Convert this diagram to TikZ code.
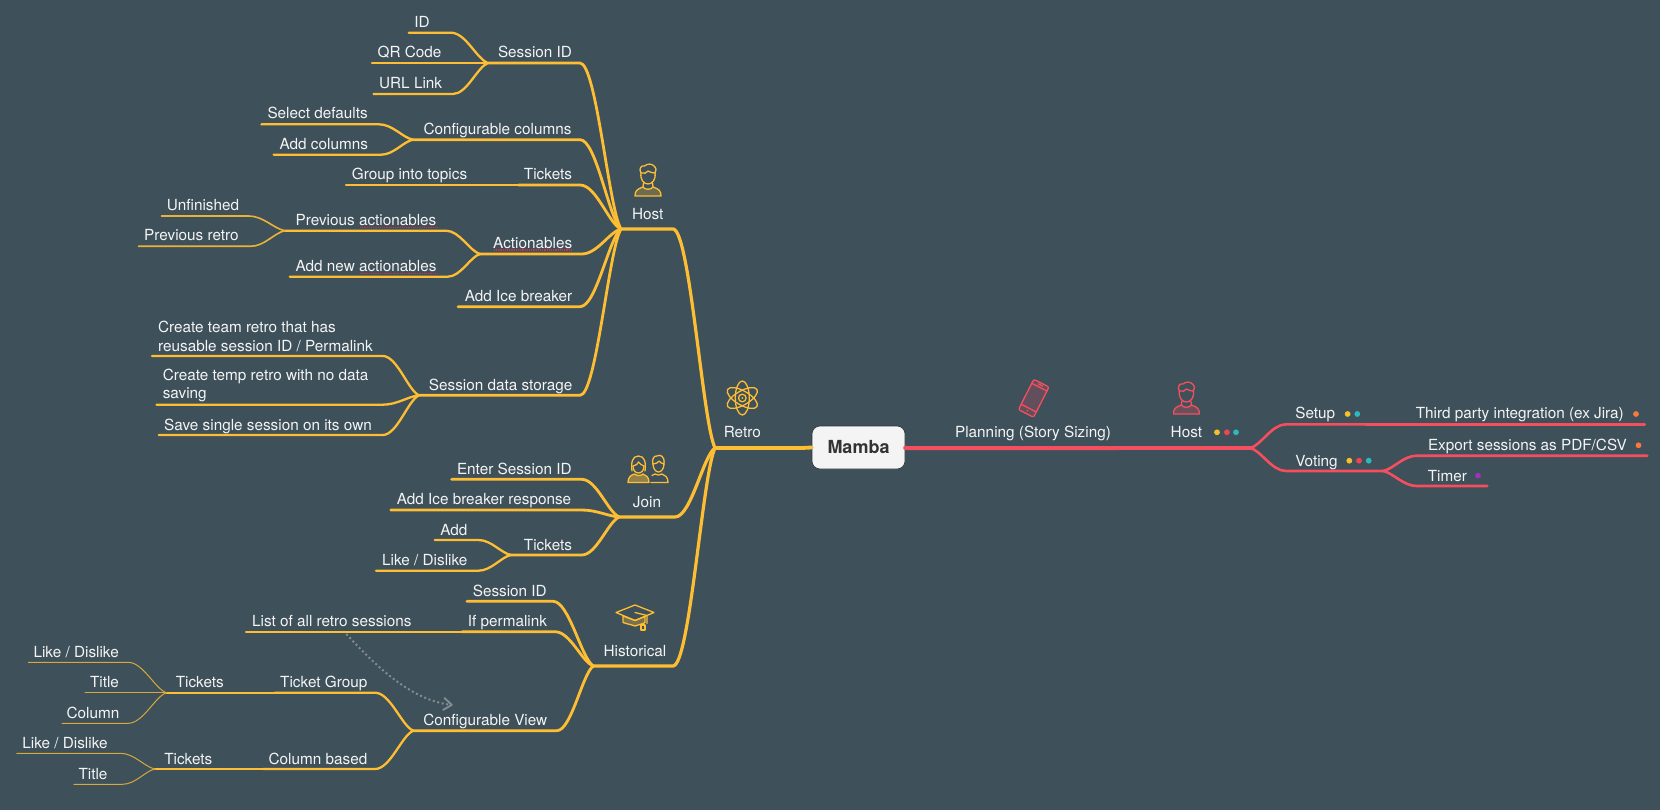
\documentclass[tikz,border=0pt]{standalone}
\usepackage{fontspec}
\setmainfont{TeX Gyre Heros}
\usetikzlibrary{calc,arrows.meta}
\definecolor{bgc}{HTML}{3E505A}
\definecolor{myy}{HTML}{FDBE33}
\definecolor{myr}{HTML}{F54F5F}
\definecolor{txt}{HTML}{F4F4F4}
\definecolor{spell}{HTML}{D2303F}
\definecolor{relc}{HTML}{838C91}
\definecolor{dy}{HTML}{F5BF2E}
\definecolor{dr}{HTML}{EE4455}
\definecolor{dt}{HTML}{2EB8BE}
\definecolor{dor}{HTML}{F57A3C}
\definecolor{dp}{HTML}{9B35B5}
\tikzset{
  conn/.style={line cap=round,line join=round},
  ya/.style={draw=myy,line width=3.8},
  yb/.style={draw=myy,line width=3.2},
  yc/.style={draw=myy,line width=2.8},
  yd/.style={draw=myy,line width=2.3},
  ye/.style={draw=myy!90!bgc,line width=1.6},
  yf/.style={draw=myy!80!bgc,line width=1},
  ra/.style={draw=myr,line width=4},
  rb/.style={draw=myr,line width=3.2},
  rc/.style={draw=myr,line width=2.6},
  lbl/.style={text=txt,font=\fontsize{15.3}{18.4}\selectfont,inner sep=0,anchor=base},
  lblml/.style={text=txt,font=\fontsize{15.3}{18.4}\selectfont,inner sep=0,anchor=west,align=left},
  root/.style={fill=txt,draw=black!35!bgc,line width=.6,rounded corners=8,minimum width=93,minimum height=43,inner sep=0,
     text=black!80,font=\fontsize{18}{20}\selectfont\bfseries},
  dot/.style={circle,inner sep=0,minimum size=5.8},
  spellline/.style={draw=spell,line width=1.4,dash pattern=on 1.2 off 1},
  rel/.style={draw=relc,line width=2,dash pattern=on 2 off 2.6,-{Straight Barb[length=8,width=12,line width=1.9,round]}},
  icon/.style={line width=1.3,line cap=round,line join=round},
  personicon/.pic={
    \begin{scope}[icon]
      \filldraw[fill opacity=.25] (-13,16) .. controls (-13,11) and (-11,9) .. (-5,7) .. controls (-3,10) and (3,10) .. (5,7) .. controls (11,9) and (13,11) .. (13,16) -- cycle;
      \draw (-4.5,3) -- (-5,7) (4.5,3) -- (5,7);
      \draw (-7,-7) .. controls (-8,0) and (-4,4) .. (0,4) .. controls (4,4) and (8,0) .. (7,-7);
      \draw (-7,-7) .. controls (-9.5,-11) and (-7,-15) .. (-3.5,-14) .. controls (-1,-16.5) and (4,-16.5) .. (6,-14) .. controls (8.5,-12) and (8.5,-9) .. (7,-7);
      \draw (-7,-7) .. controls (-4,-6) and (-1,-7) .. (0,-9) .. controls (2,-7.5) and (5,-7) .. (7,-7);
    \end{scope}
  },
  atomicon/.pic={
    \begin{scope}[icon]
      \draw[rotate=30] (0,0) ellipse [x radius=17,y radius=7];
      \draw[rotate=150] (0,0) ellipse [x radius=17,y radius=7];
      \draw[rotate=90] (0,0) ellipse [x radius=17,y radius=7];
      \draw (0,0) circle [radius=3.8];
      \fill (0,0) circle [radius=1];
    \end{scope}
  },
  coupleicon/.pic={
    \begin{scope}[icon]
      \filldraw[fill opacity=.45] (-20,13.5) .. controls (-20,8) and (-17,6) .. (-13.5,5) .. controls (-11,7) and (-7,7) .. (-5,5) .. controls (-2,6) and (1,8) .. (1,13.5) -- cycle;
      \draw (-15,-3) .. controls (-15,2) and (-12,4) .. (-9.5,4) .. controls (-7,4) and (-4,2) .. (-4,-3);
      \draw (-16,2) .. controls (-17,-6) and (-16,-13) .. (-9.5,-13) .. controls (-3,-13) and (-2,-6) .. (-3,2);
      \draw (-15,-3) .. controls (-12,-3.5) and (-10,-5) .. (-9.5,-7) .. controls (-8,-5) and (-6,-3.5) .. (-4,-3);
      \draw (3,13.5) -- (20,13.5) .. controls (20,8) and (17,6) .. (14,5) .. controls (12,6.5) and (9,6.5) .. (7,5) .. controls (6,5.5) and (5,6) .. (4,6.5);
      \draw (5,-5) .. controls (5,0) and (8,3) .. (10.5,3) .. controls (13,3) and (16,0) .. (16,-5);
      \draw (5,-5) .. controls (3.5,-9) and (6,-14) .. (9,-13) .. controls (12,-15) and (17,-13) .. (16,-5);
      \draw (5,-5) .. controls (8,-5) and (10,-6.5) .. (11,-8) .. controls (12,-6.5) and (14,-5.5) .. (16,-5);
    \end{scope}
  },
  capicon/.pic={
    \begin{scope}[icon]
      \draw (-19,-5) -- (0,-12.5) -- (19,-5) -- (0,3) -- cycle;
      \filldraw[fill opacity=.3] (-12,-1.5) -- (-12,5) .. controls (-8,6.5) and (-4,7) .. (0,8.5) .. controls (4,7) and (8,6.5) .. (10,5) -- (10,-1) -- (0,3) -- cycle;
      \draw (0,-5) -- (12,-2) -- (12,6);
      \draw (10,7.5) rectangle (6,12.5);
      \draw (8,7.5) -- (8,6.5);
    \end{scope}
  },
  phoneicon/.pic={
    \begin{scope}[icon,rotate=-27]
      \filldraw[fill opacity=.2,rounded corners=2] (-8.5,-17) rectangle (8.5,17);
      \draw (-8.5,-12.5) -- (8.5,-12.5) (-8.5,11) -- (8.5,11);
      \draw (-2.5,-15) -- (2.5,-15);
      \fill (0,14) circle [radius=.9];
    \end{scope}
  }
}
% \tp[style]{name}{far x}{near x}{y}{target}: underline of a topic, then its curve into the parent's junction
\newcommand\tp[6][yd]{%
  \coordinate (#2-f) at (#3,#5);
  \coordinate (#2-n) at (#4,#5);
  \draw[conn,#1] let \p1=(#2-n),\p2=(#6),\n1={\x2-\x1},\n2={\y2-\y1} in
    (#2-f) -- (\p1) .. controls (\x1+.4*\n1,\y1) and (\x2-.3*\n1,\y2-.12*\n2) .. (\p2);
}
\begin{document}
\begin{tikzpicture}[x=1pt,y=-1pt]
\useasboundingbox (0,0) rectangle (1660,810);
\fill[bgc] (0,0) rectangle (1660,810);

\node[root] (mamba) at (858.5,447.5) {Mamba};

% ---------- right side
\tp[ra]{plan}{1118}{905}{448}{mamba.east}
\tp[rb]{rhost}{1250.4}{1118}{448}{plan-f}
\tp[rc]{setup}{1366}{1286}{424.3}{rhost-f}
\tp[rc]{third}{1644.8}{1366}{424.3}{setup-f}
\tp[rc]{voting}{1383}{1286}{471}{rhost-f}
\tp[rc]{export}{1647.3}{1416.7}{455.7}{voting-f}
\tp[rc]{timer}{1487.4}{1416.7}{486}{voting-f}

\node[lbl] (nplan) at (1033,437.6) {Planning (Story Sizing)};
\node[lbl] (nrhost) at (1186.4,437.6) {Host};
\node[lbl] (nsetup) at (1315.2,418.8) {Setup};
\node[lbl] (nthird) at (1519.8,418.8) {Third party integration (ex Jira)};
\node[lbl] (nvoting) at (1316.5,466) {Voting};
\node[lbl] (nexport) at (1527.4,450.2) {Export sessions as PDF/CSV};
\node[lbl] (ntimer) at (1447.4,481) {Timer};

\node[dot,fill=dy] (d1) at (1217,432.3) {};
\node[dot,fill=dr] (d2) at (1226.9,432.3) {};
\node[dot,fill=dt] (d3) at (1236,432.3) {};
\node[dot,fill=dy] (d4) at (1347.6,414) {};
\node[dot,fill=dt] (d5) at (1357.3,414) {};
\node[dot,fill=dor] (d6) at (1636,414) {};
\node[dot,fill=dy] (d7) at (1349.3,460.7) {};
\node[dot,fill=dr] (d8) at (1359,460.7) {};
\node[dot,fill=dt] (d9) at (1368.7,460.7) {};
\node[dot,fill=dor] (d10) at (1638.5,445.3) {};
\node[dot,fill=dp] (d11) at (1478,475.7) {};

\pic[color=myr] at (1033.7,398.3) {phoneicon};
\pic[color=myr] at (1186.4,398) {personicon};

% ---------- left side
\tp[ya]{retro}{715}{800}{448}{mamba.west}
\tp[yb]{host}{621}{673}{229}{retro-f}
\tp[yb]{join}{619.3}{675}{517}{retro-f}
\tp[yb]{hist}{593.3}{673}{666}{retro-f}

\node[lbl] (nretro) at (742.3,437.6) {Retro};
\node[lbl] (nhost) at (647.7,219.4) {Host};
\node[lbl] (njoin) at (647,507.6) {Join};
\node[lbl] (nhist) at (635,656) {Historical};

\pic[color=myy] at (742.3,398) {atomicon};
\pic[color=myy] at (648,180) {personicon};
\pic[color=myy] at (648,469) {coupleicon};
\pic[color=myy] at (635,617.5) {capicon};

% Host branch
\tp[yc]{sid}{488}{580}{63}{host-f}
\tp[yd]{idl}{408.7}{451}{32.7}{sid-f}
\tp[yd]{qr}{372}{488}{63}{sid-f}
\tp[yd]{url}{373.5}{453}{94}{sid-f}
\tp[yc]{cc}{413}{580}{139.7}{host-f}
\tp[yd]{sel}{261.4}{379}{124.3}{cc-f}
\tp[yd]{addc}{273.6}{381}{154.7}{cc-f}
\tp[yc]{tick}{518.6}{580}{185}{host-f}
\tp[yd]{grp}{346}{518.6}{185}{tick-f}
\tp[yc]{act}{480}{581.7}{254}{host-f}
\tp[yd]{prev}{285}{446}{230.7}{act-f}
\tp[ye]{unf}{161.5}{248.8}{216}{prev-f}
\tp[ye]{pret}{138.5}{250.7}{246.3}{prev-f}
\tp[yd]{addn}{289.7}{447.8}{276.7}{act-f}
\tp[yc]{ice}{458}{580}{306.7}{host-f}
\tp[yc]{sds}{419}{580}{395.3}{host-f}
\tp[yd]{team}{152}{382.7}{356}{sds-f}
\tp[yd]{temp}{156.5}{382.7}{404.7}{sds-f}
\tp[yd]{save}{158.8}{382.7}{435}{sds-f}

\node[lbl] (nsid) at (535,58) {Session ID};
\node[lbl] (nidl) at (422,27.4) {ID};
\node[lbl] (nqr) at (409.5,58) {QR Code};
\node[lbl] (nurl) at (410.6,88.4) {URL Link};
\node[lbl] (ncc) at (497.5,134.4) {Configurable columns};
\node[lbl] (nsel) at (317.6,119) {Select defaults};
\node[lbl] (naddc) at (323.8,149.6) {Add columns};
\node[lbl] (ntick) at (548,180) {Tickets};
\node[lbl] (ngrp) at (409.5,180) {Group into topics};
\node[lbl] (nact) at (532.7,248.4) {Actionables};
\node[lbl] (nprev) at (366,226) {Previous actionables};
\node[lbl] (nunf) at (203,210.4) {Unfinished};
\node[lbl] (npret) at (191.4,241) {Previous retro};
\node[lbl] (naddn) at (366,271.4) {Add new actionables};
\node[lbl] (nice) at (518.5,302) {Add Ice breaker};
\node[lbl] (nsds) at (500.6,390.4) {Session data storage};
\node[lblml] (nteam) at (158,336.5) {Create team retro that has\\reusable session ID / Permalink};
\node[lblml] (ntemp) at (162.6,385.3) {Create temp retro with no data\\saving};
\node[lbl] (nsave) at (268,430.4) {Save single session on its own};

\draw[spellline] (360,227.7) -- (438,227.7);
\draw[spellline] (493.7,250) -- (572,250);
\draw[spellline] (360,273.3) -- (438,273.3);

% Join branch
\tp[yc]{ent}{451.6}{581.7}{479.3}{join-f}
\tp[yc]{resp}{390.7}{581.7}{510}{join-f}
\tp[yc]{jt}{511}{581.7}{555}{join-f}
\tp[yd]{jadd}{434.7}{478.4}{540}{jt-f}
\tp[yd]{jlike}{376}{478.4}{570.7}{jt-f}

\node[lbl] (nent) at (514.3,474.4) {Enter Session ID};
\node[lbl] (nresp) at (484,504.8) {Add Ice breaker response};
\node[lbl] (njt) at (548,550.4) {Tickets};
\node[lbl] (njadd) at (453.9,535) {Add};
\node[lbl] (njlike) at (424.8,565.4) {Like / Dislike};

% Historical branch
\tp[yc]{hsid}{466.9}{553}{601.3}{hist-f}
\tp[yc]{perm}{462}{555}{631.7}{hist-f}
\tp[yd]{list}{246}{462}{631.7}{perm-f}
\tp[yc]{view}{413.3}{556.8}{730.7}{hist-f}
\tp[yd]{tg}{274.8}{375}{692.7}{view-f}
\tp[yd]{tt}{166.5}{274.8}{692.7}{tg-f}
\tp[yf]{l1}{28.3}{128}{662.3}{tt-f}
\tp[yf]{t1}{85}{166.5}{692.7}{tt-f}
\tp[yf]{c1}{62}{128}{723.3}{tt-f}
\tp[yd]{cb}{263.3}{375}{769}{view-f}
\tp[yd]{ct}{155}{263.3}{769}{cb-f}
\tp[yf]{l2}{16.8}{120.5}{753.3}{ct-f}
\tp[yf]{t2}{73.9}{122.5}{784.3}{ct-f}

\node[lbl] (nhsid) at (509.8,596) {Session ID};
\node[lbl] (nperm) at (507.5,626.6) {If permalink};
\node[lbl] (nlist) at (331.8,626.6) {List of all retro sessions};
\node[lbl] (nview) at (485.3,725.6) {Configurable View};
\node[lbl] (ntg) at (323.8,687.6) {Ticket Group};
\node[lbl] (ntt) at (199.8,687.6) {Tickets};
\node[lbl] (nl1) at (76.2,657) {Like / Dislike};
\node[lbl] (nt1) at (104.5,687.6) {Title};
\node[lbl] (nc1) at (93,718) {Column};
\node[lbl] (ncb) at (318,764) {Column based};
\node[lbl] (nct) at (188.3,764) {Tickets};
\node[lbl] (nl2) at (65,748.3) {Like / Dislike};
\node[lbl] (nt2) at (93,779) {Title};

\coordinate (relstart) at (346.3,634);
\coordinate (relend) at (452.7,705);
\draw[rel] (relstart) .. controls (375,665) and (410,700) .. (relend);
\end{tikzpicture}
\end{document}
